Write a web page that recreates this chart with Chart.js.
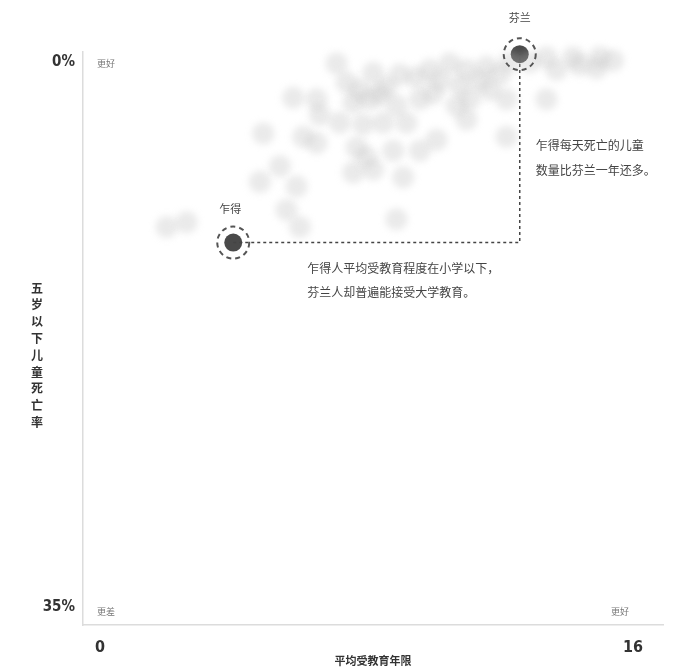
<!DOCTYPE html>
<html>
<head>
<meta charset="utf-8">
<script src="https://cdn.jsdelivr.net/npm/chart.js@4/dist/chart.umd.min.js"></script>
<style>
  html, body { margin: 0; padding: 0; background: #fff; }
  #wrap { width: 687px; height: 670px; position: relative; }
</style>
</head>
<body>
<div id="wrap"><canvas id="chart"></canvas></div>
<script>
// mean years of schooling (x) vs under-5 mortality % (y)
const countryYears = [2.0, 2.6, 5.6, 6.0, 8.9, 4.8, 5.9, 5.4, 4.9, 6.1, 6.5, 5.8, 6.5, 7.1, 7.4, 8.2, 8.6, 7.6, 8.1, 7.2,
  7.9, 8.5, 9.2, 7.7, 8.0, 8.8, 10.1, 7.6, 8.2, 9.1, 9.5, 10.5, 11.0, 11.6, 13.4, 14.2, 15.0, 15.4, 13.7, 13.4,
  10.0, 11.0, 12.2, 9.0, 9.9, 10.2, 10.8, 11.4, 12.0, 12.3, 12.9, 14.4, 14.9, 11.7, 10.7, 9.6, 8.9, 8.4, 7.8, 6.6,
  9.6, 11.1, 12.2];
const countryMortality = [10.6, 10.3, 9.5, 10.6, 10.1, 7.7, 8.0, 6.7, 4.6, 4.8, 5.2, 2.3, 2.4, 0.1, 1.3, 0.7, 1.6, 2.6, 2.4, 3.9,
  4.0, 3.9, 3.9, 5.5, 6.1, 5.7, 5.0, 7.1, 6.9, 7.4, 1.0, 0.1, 0.5, 0.3, -0.3, -0.3, -0.3, -0.1, 0.5, 2.4,
  2.0, 3.7, 4.8, 0.8, 0.5, 1.2, 1.5, 1.2, 0.8, 0.0, 0.0, 0.2, 0.4, 1.8, 2.8, 2.4, 2.8, 2.1, 1.8, 3.4,
  5.7, 2.4, 2.4];

const highlightNames = ["乍得", "芬兰"];
const highlightYears = [4.0, 12.6];
const highlightMortality = [11.6, -0.5];

const xTicks = [0, 16];
const yTicks = [0, 35];

const cloud = countryYears.map((x, i) => ({ x: x, y: countryMortality[i] }));
const highlights = highlightYears.map((x, i) => ({ x: x, y: highlightMortality[i] }));
// elbow line: Chad -> across to Finland's schooling -> up to Finland
const connector = [
  highlights[0],
  { x: highlightYears[1], y: highlightMortality[0] },
  highlights[1],
];

const cjk = "'Noto Sans CJK SC', 'Noto Sans', sans-serif";
const narrow = "'Liberation Sans Narrow', 'DejaVu Sans Condensed', sans-serif";

// blur the background dots, like the original
const blurCloud = {
  id: "blurCloud",
  beforeDatasetDraw(chart, args) {
    if (args.index !== 0) return;
    chart.ctx.save();
    chart.ctx.filter = "blur(3.5px)";
  },
  afterDatasetDraw(chart, args) {
    if (args.index !== 0) return;
    chart.ctx.restore();
  },
};

const annotations = {
  id: "annotations",
  afterDatasetsDraw(chart) {
    const ctx = chart.ctx;
    const xs = chart.scales.x, ys = chart.scales.y;
    const area = chart.chartArea;

    // dashed rings round the two highlighted countries
    ctx.save();
    ctx.strokeStyle = "#555";
    ctx.lineWidth = 2;
    ctx.setLineDash([5, 4]);
    highlights.forEach(p => {
      ctx.beginPath();
      ctx.arc(xs.getPixelForValue(p.x), ys.getPixelForValue(p.y), 16, 0, Math.PI * 2);
      ctx.stroke();
    });
    ctx.restore();

    ctx.save();
    ctx.fillStyle = "#444";
    ctx.font = "11px " + cjk;
    ctx.textAlign = "center";
    ctx.textBaseline = "middle";
    const chadX = xs.getPixelForValue(highlightYears[0]);
    const chadY = ys.getPixelForValue(highlightMortality[0]);
    const finX = xs.getPixelForValue(highlightYears[1]);
    const finY = ys.getPixelForValue(highlightMortality[1]);
    ctx.fillText(highlightNames[0], chadX - 3, chadY - 34);
    ctx.fillText(highlightNames[1], finX, finY - 36);

    ctx.font = "12px " + cjk;
    ctx.textAlign = "left";
    ctx.fillText("乍得每天死亡的儿童", finX + 16, 145);
    ctx.fillText("数量比芬兰一年还多。", finX + 16, 170);
    ctx.fillText("乍得人平均受教育程度在小学以下，", chadX + 74, chadY + 26);
    ctx.fillText("芬兰人却普遍能接受大学教育。", chadX + 74, chadY + 50);

    // corner hints
    ctx.font = "9px " + cjk;
    ctx.fillStyle = "#777";
    ctx.fillText("更好", area.left + 14, area.top + 12);
    ctx.fillText("更差", area.left + 14, area.bottom - 13);
    ctx.fillText("更好", area.right - 52, area.bottom - 13);

    // vertical y title, characters upright
    ctx.font = "bold 12px " + cjk;
    ctx.fillStyle = "#333";
    ctx.textAlign = "center";
    const title = "五岁以下儿童死亡率";
    const step = 16.8;
    const startY = 288;
    for (let i = 0; i < title.length; i++) {
      ctx.fillText(title[i], 37, startY + i * step);
    }
    ctx.restore();
  },
};

new Chart(document.getElementById("chart"), {
  type: "scatter",
  plugins: [blurCloud, annotations],
  data: {
    datasets: [
      {
        data: cloud,
        clip: false,
        pointRadius: 11,
        pointHoverRadius: 11,
        backgroundColor: "rgba(190,190,190,0.32)",
        borderWidth: 0,
      },
      {
        type: "line",
        data: connector,
        clip: false,
        borderColor: "#444",
        borderWidth: 1.5,
        borderDash: [3, 3],
        pointRadius: 0,
        fill: false,
        tension: 0,
      },
      {
        data: highlights,
        clip: false,
        pointRadius: 9,
        pointHoverRadius: 9,
        backgroundColor: "#4a4a4a",
        borderWidth: 0,
      },
    ],
  },
  options: {
    responsive: true,
    maintainAspectRatio: false,
    animation: false,
    layout: { padding: { top: 52, right: 24, left: 0, bottom: 0 } },
    plugins: {
      legend: { display: false },
      tooltip: { enabled: false },
    },
    scales: {
      x: {
        type: "linear",
        min: -0.51,
        max: 16.9,
        grid: { display: false, drawTicks: false },
        border: { display: true, color: "#dcdcdc", width: 1.5 },
        afterBuildTicks: s => { s.ticks = xTicks.map(v => ({ value: v })); },
        afterFit: s => { s.height = 45; },
        ticks: {
          padding: 13,
          color: "#333",
          font: { family: narrow, size: 16, weight: "bold" },
          callback: v => String(v),
        },
        title: {
          display: true,
          text: "平均受教育年限",
          color: "#333",
          font: { family: cjk, size: 11, weight: "bold" },
          padding: { top: 0, bottom: 3 },
        },
      },
      y: {
        type: "linear",
        reverse: true,
        min: -0.64,
        max: 36.16,
        grid: { display: false, drawTicks: false },
        border: { display: true, color: "#dcdcdc", width: 1.5 },
        afterBuildTicks: s => { s.ticks = yTicks.map(v => ({ value: v })); },
        afterFit: s => { s.width = 83; },
        ticks: {
          padding: 8,
          color: "#333",
          font: { family: narrow, size: 15, weight: "bold" },
          callback: v => v + "%",
        },
      },
    },
  },
});
</script>
</body>
</html>
